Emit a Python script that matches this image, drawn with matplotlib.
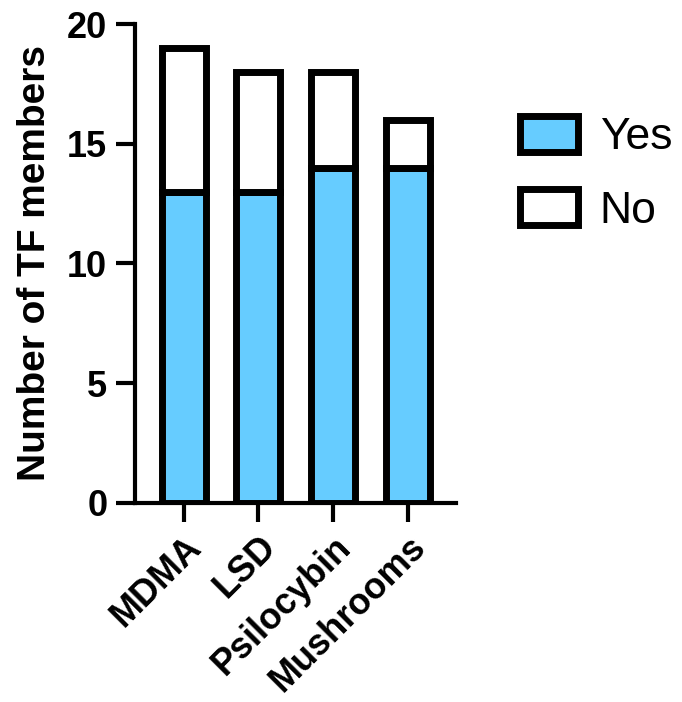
import numpy as np
import matplotlib
matplotlib.use('Agg')
import matplotlib.pyplot as plt
from matplotlib.patches import Patch

plt.rcParams['font.family'] = ['Liberation Sans', 'DejaVu Sans']

# data
drugs = ['MDMA', 'LSD', 'Psilocybin', 'Mushrooms']
yes_counts = [13, 13, 14, 14]
no_counts = [6, 5, 4, 2]

blue = '#66CCFF'
lw = 5

fig = plt.figure(figsize=(6.82, 7.02), dpi=100)
ax = fig.add_axes([0.198, 0.2835, 0.471, 0.6823])

x = np.arange(len(drugs))
ax.bar(x, yes_counts, width=0.59, color=blue, edgecolor='black', linewidth=lw, zorder=2)
ax.bar(x, no_counts, bottom=yes_counts, width=0.59, color='white',
       edgecolor='black', linewidth=lw, zorder=2)

ax.set_xlim(-0.65, 3.65)
ax.set_ylim(0, 20)
ax.set_yticks([0, 5, 10, 15, 20])
ax.set_xticks(x)
ax.set_xticklabels(drugs, rotation=45, ha='right', rotation_mode='anchor',
                   fontsize=26, fontweight='bold')
for lab in ax.get_yticklabels():
    lab.set_fontsize(26)
    lab.set_fontweight('bold')
ax.tick_params(axis='both', width=3, length=14, pad=6)
ax.tick_params(axis='x', pad=5)

for s in ['top', 'right']:
    ax.spines[s].set_visible(False)
for s in ['left', 'bottom']:
    ax.spines[s].set_linewidth(3)

ax.set_ylabel('Number of TF members', fontsize=28, fontweight='bold', labelpad=10)

handles = [Patch(facecolor=blue, edgecolor='black', linewidth=lw, label='Yes'),
           Patch(facecolor='white', edgecolor='black', linewidth=lw, label='No')]
fig.legend(handles=handles, loc='upper left', bbox_to_anchor=(0.736, 0.86),
           frameon=False, fontsize=32, handlelength=1.3, handleheight=0.86,
           handletextpad=0.5, labelspacing=0.7, borderaxespad=0)

fig.savefig('out.png', dpi=100)
